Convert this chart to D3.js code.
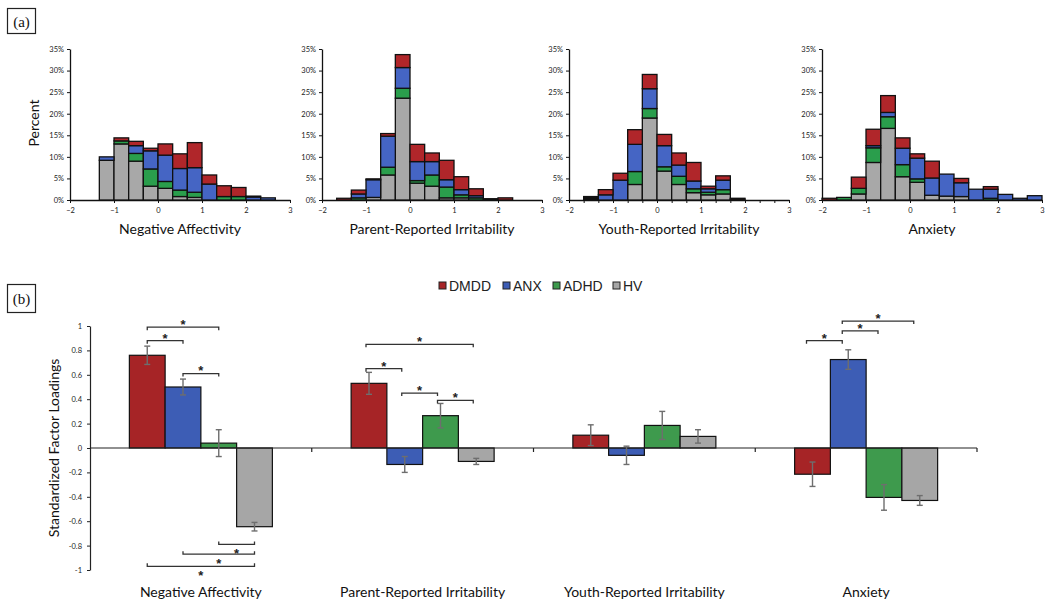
<!DOCTYPE html>
<html><head><meta charset="utf-8">
<script src="https://cdn.jsdelivr.net/npm/d3@7"></script>
<style>body{margin:0;background:#fff}svg{display:block}</style>
</head><body>
<svg id="c" width="1050" height="602"></svg>
<script>
// ---------------- DATA ----------------
const groups = ["DMDD", "ANX", "ADHD", "HV"];
const factors = ["Negative Affectivity", "Parent-Reported Irritability", "Youth-Reported Irritability", "Anxiety"];

// Histograms (panel a): percent of sample per bin, bins of width 1/3
const binWidth = 1 / 3;
const histFirstEdge = [-4 / 3, -5 / 3, -5 / 3, -2];

const histNA_HV   = [9.2, 13.0, 9.0, 3.2, 2.7, 0.8, 0.6, 0, 0, 0, 0, 0];
const histNA_ADHD = [0, 0.7, 1.8, 4.0, 1.6, 1.5, 1.2, 0, 0.8, 0.8, 0, 0];
const histNA_ANX  = [0.8, 0, 1.8, 4.2, 6.1, 5.0, 5.7, 3.7, 0, 0, 0.7, 0.5];
const histNA_DMDD = [0, 0.7, 1.0, 0.6, 2.6, 3.4, 5.8, 2.1, 2.5, 2.1, 0.2, 0];

const histPRI_HV   = [0, 0, 0.6, 5.8, 23.6, 3.9, 3.2, 0.5, 0.5, 0, 0, 0];
const histPRI_ADHD = [0, 0.5, 0, 1.8, 2.3, 0.6, 2.6, 2.5, 0.7, 0.5, 0, 0];
const histPRI_ANX  = [0, 0.9, 4.1, 7.2, 4.8, 4.4, 3.1, 1.7, 1.2, 0.5, 0, 0];
const histPRI_DMDD = [0.4, 0.9, 0.2, 0.6, 3.0, 4.0, 2.0, 4.5, 3.0, 1.6, 0.3, 0.5];

const histYRI_HV   = [0.3, 0, 0, 3.6, 19.0, 6.7, 3.6, 1.7, 1.2, 1.4, 0.2, 0];
const histYRI_ADHD = [0, 0, 0, 3.0, 2.2, 1.0, 1.9, 0.9, 0.6, 1.0, 0, 0];
const histYRI_ANX  = [0.2, 1.2, 4.6, 6.3, 4.6, 4.9, 2.6, 1.8, 0.8, 2.2, 0, 0];
const histYRI_DMDD = [0.3, 1.2, 1.6, 3.4, 3.3, 2.6, 2.8, 4.3, 0.6, 1.0, 0.2, 0];

const histANX_HV   = [0, 0, 1.4, 8.7, 16.6, 5.4, 4.1, 1.1, 0.9, 0.8, 0, 0, 0, 0, 0];
const histANX_ADHD = [0, 0.6, 1.3, 3.4, 2.7, 2.8, 0.8, 0, 0, 0, 0, 0.4, 0, 0, 0];
const histANX_ANX  = [0, 0, 0, 0.5, 1.0, 3.8, 4.8, 4.0, 5.1, 3.2, 2.5, 2.1, 1.3, 0.4, 1.0];
const histANX_DMDD = [0.4, 0, 2.6, 3.8, 3.9, 2.4, 1.0, 3.9, 0, 1.0, 0, 0.6, 0, 0, 0];

const histXTicks = [-2, -1, 0, 1, 2, 3];
const histYTicks = [0, 5, 10, 15, 20, 25, 30, 35];

// Panel b: standardized factor loadings (mean, error half-width) per factor
const loadDMDD = [0.76, 0.53, 0.105, -0.215];
const loadANX  = [0.50, -0.135, -0.06, 0.725];
const loadADHD = [0.04, 0.265, 0.185, -0.405];
const loadHV   = [-0.645, -0.11, 0.095, -0.43];
const errDMDD = [0.075, 0.09, 0.085, 0.10];
const errANX  = [0.065, 0.065, 0.075, 0.08];
const errADHD = [0.11, 0.10, 0.115, 0.105];
const errHV   = [0.035, 0.025, 0.055, 0.04];
const loadYTicks = [-1, -0.8, -0.6, -0.4, -0.2, 0, 0.2, 0.4, 0.6, 0.8, 1];

// significance brackets: factor index, group a, group b, level (loading units), side
const sigFactor = [0, 0, 0, 0, 0, 0, 1, 1, 1, 1, 3, 3, 3];
const sigA      = ["DMDD", "DMDD", "ANX", "ADHD", "ANX", "DMDD", "DMDD", "DMDD", "ANX", "ADHD", "DMDD", "ANX", "ANX"];
const sigB      = ["ADHD", "ANX", "ADHD", "HV", "HV", "HV", "HV", "ANX", "ADHD", "HV", "ANX", "ADHD", "HV"];
const sigLevel  = [0.99, 0.88, 0.61, -0.79, -0.87, -0.97, 0.85, 0.65, 0.45, 0.39, 0.88, 0.96, 1.04];
const sigSide   = ["top", "top", "top", "bottom", "bottom", "bottom", "top", "top", "top", "top", "top", "top", "top"];

// ---------------- STYLE / LAYOUT ----------------
const histColors = { DMDD: "#B0262A", ANX: "#4565C4", ADHD: "#2A9E4C", HV: "#A8A8A8" };
const barColors  = { DMDD: "#A62426", ANX: "#3D5DB5", ADHD: "#3E9A4D", HV: "#A6A6A6" };
const FONT = "Lato, 'Open Sans', sans-serif";
const histLeft = [70, 322, 569, 822];
const histW = 220, histTop = 49, histBottom = 200;
const bracketShift = [0, -3, 0, -6];

const svg = d3.select("#c");
svg.append("rect").attr("width", 1050).attr("height", 602).attr("fill", "#fff");

// panel labels
function panelLabel(txt, x, y, w, h) {
  svg.append("rect").attr("x", x).attr("y", y).attr("width", w).attr("height", h)
    .attr("fill", "none").attr("stroke", "#222").attr("stroke-width", 1.2);
  svg.append("text").attr("x", x + w / 2).attr("y", y + h / 2 + 5.5)
    .attr("text-anchor", "middle").attr("font-family", "'Liberation Serif', serif")
    .attr("font-size", 15).attr("fill", "#111").text(txt);
}
panelLabel("(a)", 7.5, 8.5, 28, 25);
panelLabel("(b)", 7.5, 284.5, 28, 28);

// ---------------- HISTOGRAMS ----------------
const histSets = [
  { HV: histNA_HV, ADHD: histNA_ADHD, ANX: histNA_ANX, DMDD: histNA_DMDD },
  { HV: histPRI_HV, ADHD: histPRI_ADHD, ANX: histPRI_ANX, DMDD: histPRI_DMDD },
  { HV: histYRI_HV, ADHD: histYRI_ADHD, ANX: histYRI_ANX, DMDD: histYRI_DMDD },
  { HV: histANX_HV, ADHD: histANX_ADHD, ANX: histANX_ANX, DMDD: histANX_DMDD }
];
const stackKeys = ["HV", "ADHD", "ANX", "DMDD"];

histSets.forEach((set, i) => {
  const L = histLeft[i];
  const x = d3.scaleLinear().domain([-2, 3]).range([L, L + histW]);
  const y = d3.scaleLinear().domain([0, 35]).range([histBottom, histTop]);
  const g = svg.append("g");

  const rows = set.HV.map((_, k) => {
    const r = { x0: histFirstEdge[i] + k * binWidth };
    stackKeys.forEach(key => r[key] = set[key][k]);
    return r;
  });
  const stacked = d3.stack().keys(stackKeys)(rows);

  const ya = g.append("g").attr("transform", `translate(${L},0)`)
    .call(d3.axisLeft(y).tickValues(histYTicks).tickSize(3).tickSizeOuter(0).tickFormat(d => d + "%"));
  let xt = histXTicks;
  if (i === 2) xt = d3.range(0, 16).map(k => -2 + k / 3);
  const xa = g.append("g").attr("transform", `translate(0,${histBottom})`)
    .call(d3.axisBottom(x).tickValues(xt).tickSize(3).tickSizeOuter(0)
      .tickFormat(d => Math.abs(d - Math.round(d)) < 1e-6 ? d3.format("d")(Math.round(d)) : ""));
  [ya, xa].forEach(a => {
    a.select(".domain").attr("stroke", "#111").attr("stroke-width", 1.3);
    a.selectAll(".tick line").attr("stroke", "#111").attr("stroke-width", 1);
    a.selectAll("text").attr("font-family", FONT).attr("font-size", 7.5).attr("fill", "#222");
  });
  ya.selectAll("text").attr("x", -6);
  xa.selectAll("text").attr("y", 8);

  stacked.forEach(series => {
    const key = series.key;
    g.append("g").selectAll("rect")
      .data(series.filter(d => d[1] - d[0] > 0))
      .join("rect")
      .attr("x", d => x(d.data.x0))
      .attr("width", d => x(d.data.x0 + binWidth) - x(d.data.x0))
      .attr("y", d => y(d[1]))
      .attr("height", d => y(d[0]) - y(d[1]))
      .attr("fill", histColors[key])
      .attr("stroke", "#111").attr("stroke-width", 1.3);
  });

  g.append("text").attr("x", L + histW / 2).attr("y", 234)
    .attr("text-anchor", "middle").attr("font-family", FONT).attr("font-size", 14)
    .attr("fill", "#111").text(factors[i]);
});

svg.append("text").attr("transform", "translate(38.5,123) rotate(-90)")
  .attr("text-anchor", "middle").attr("font-family", FONT).attr("font-size", 14)
  .attr("fill", "#111").text("Percent");

// ---------------- PANEL B ----------------
const bx = d3.scaleBand().domain(factors).range([90, 977]);
const inner = d3.scaleBand().domain(groups).range([-71.5, 71.5]);
const by = d3.scaleLinear().domain([-1, 1]).range([570, 326]);
const loads = { DMDD: loadDMDD, ANX: loadANX, ADHD: loadADHD, HV: loadHV };
const errs = { DMDD: errDMDD, ANX: errANX, ADHD: errADHD, HV: errHV };
const center = (fi, g) => bx(factors[fi]) + bx.bandwidth() / 2 + inner(g) + inner.bandwidth() / 2;

// legend
const legendX = [439, 503, 553, 613];
const lg = svg.append("g");
groups.forEach((gname, k) => {
  lg.append("rect").attr("x", legendX[k]).attr("y", 282).attr("width", 7).attr("height", 7)
    .attr("fill", barColors[gname]).attr("stroke", "#222").attr("stroke-width", 1);
  lg.append("text").attr("x", legendX[k] + 10).attr("y", 290.5)
    .attr("font-family", "'Liberation Sans', Arial, sans-serif").attr("font-size", 14)
    .attr("fill", "#222").text(gname);
});

// y axis
const bya = svg.append("g").attr("transform", "translate(90,0)")
  .call(d3.axisLeft(by).tickValues(loadYTicks).tickSize(3).tickSizeOuter(0)
    .tickFormat(d => Math.abs(d) < 1e-9 ? "0" : String(+d.toFixed(1))));
bya.select(".domain").attr("stroke", "#222").attr("stroke-width", 1.2);
bya.selectAll(".tick line").attr("stroke", "#222");
bya.selectAll("text").attr("font-family", FONT).attr("font-size", 7.5).attr("fill", "#222").attr("x", -8);

svg.append("text").attr("transform", "translate(59,448) rotate(-90)")
  .attr("text-anchor", "middle").attr("font-family", FONT).attr("font-size", 14)
  .attr("fill", "#111").text("Standardized Factor Loadings");

// bars
groups.forEach(gname => {
  svg.append("g").selectAll("rect")
    .data(factors.map((f, fi) => ({ fi, v: loads[gname][fi] })))
    .join("rect")
    .attr("x", d => bx(factors[d.fi]) + bx.bandwidth() / 2 + inner(gname))
    .attr("width", inner.bandwidth())
    .attr("y", d => by(Math.max(0, d.v)))
    .attr("height", d => Math.abs(by(d.v) - by(0)))
    .attr("fill", barColors[gname])
    .attr("stroke", "#111").attr("stroke-width", 1.2);
});

// zero line with category ticks
const zax = svg.append("g").attr("transform", `translate(0,${by(0)})`);
zax.append("line").attr("x1", 90).attr("x2", 977).attr("stroke", "#222").attr("stroke-width", 1.2);
factors.forEach((f, fi) => {
  const xe = bx(f) + bx.bandwidth();
  zax.append("line").attr("x1", xe).attr("x2", xe).attr("y1", 0).attr("y2", 4)
    .attr("stroke", "#222").attr("stroke-width", 1.2);
  svg.append("text").attr("x", bx(f) + bx.bandwidth() / 2).attr("y", 597)
    .attr("text-anchor", "middle").attr("font-family", FONT).attr("font-size", 14)
    .attr("fill", "#111").text(f);
});

// error bars
groups.forEach(gname => {
  factors.forEach((f, fi) => {
    const cx = center(fi, gname);
    const v = loads[gname][fi], e = errs[gname][fi];
    const eg = svg.append("g").attr("stroke", "#6e6e6e").attr("stroke-width", 1.4);
    eg.append("line").attr("x1", cx).attr("x2", cx).attr("y1", by(v - e)).attr("y2", by(v + e));
    eg.append("line").attr("x1", cx - 3).attr("x2", cx + 3).attr("y1", by(v - e)).attr("y2", by(v - e));
    eg.append("line").attr("x1", cx - 3).attr("x2", cx + 3).attr("y1", by(v + e)).attr("y2", by(v + e));
  });
});

// significance brackets
sigLevel.forEach((lvl, k) => {
  const fi = sigFactor[k];
  const x1 = center(fi, sigA[k]) + bracketShift[fi];
  const x2 = center(fi, sigB[k]) + bracketShift[fi];
  const yy = by(lvl);
  const dir = sigSide[k] === "top" ? 3 : -3;
  svg.append("path")
    .attr("d", `M${x1},${yy + dir}V${yy}H${x2}V${yy + dir}`)
    .attr("fill", "none").attr("stroke", "#333").attr("stroke-width", 1.3);
  const cy = sigSide[k] === "top" ? yy - 5.5 : yy + 6.5;
  svg.append("text").attr("x", (x1 + x2) / 2).attr("y", cy + 7.4)
    .attr("text-anchor", "middle").attr("font-family", "'Liberation Sans', Arial, sans-serif")
    .attr("font-weight", "bold").attr("font-size", 13).attr("fill", "#222").text("*");
});
</script>
</body></html>
